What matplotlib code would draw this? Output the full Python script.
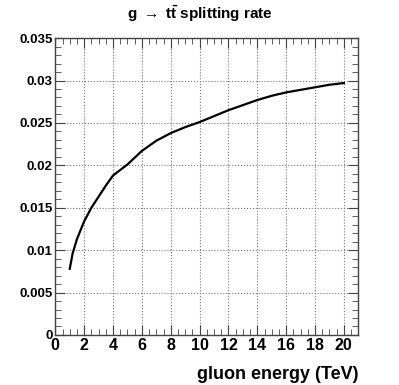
import numpy as np
import matplotlib.pyplot as plt
from matplotlib.ticker import MultipleLocator

# gluon energy (TeV) and g -> t tbar splitting rate
energy = [1.0, 1.2, 1.5, 2, 2.5, 3, 3.5, 4, 5, 6, 7, 8, 9, 10,
          11, 12, 13, 14, 15, 16, 17, 18, 19, 20]
rate = [0.0078, 0.0096, 0.0113, 0.0134, 0.0150, 0.0163, 0.0176, 0.0188,
        0.0201, 0.0217, 0.0229, 0.0238, 0.0245, 0.0251, 0.0258, 0.0265,
        0.0271, 0.0277, 0.0282, 0.0286, 0.0289, 0.0292, 0.0295, 0.0297]

plt.rcParams['font.family'] = ['Liberation Sans', 'DejaVu Sans']
plt.rcParams['font.weight'] = 'bold'
plt.rcParams['mathtext.fontset'] = 'custom'
plt.rcParams['mathtext.rm'] = 'Liberation Sans:bold'
plt.rcParams['mathtext.it'] = 'Liberation Sans:bold'
plt.rcParams['mathtext.bf'] = 'Liberation Sans:bold'

fig = plt.figure(figsize=(3.99, 3.85), dpi=100)
ax = fig.add_axes([0.1386, 0.130, 0.7594, 0.771])

ax.plot(energy, rate, color='black', lw=1.6)

ax.set_xlim(0, 21)
ax.set_ylim(0, 0.035)
ax.xaxis.set_major_locator(MultipleLocator(2))
ax.xaxis.set_minor_locator(MultipleLocator(0.5))
ax.yaxis.set_major_locator(MultipleLocator(0.005))
ax.yaxis.set_minor_locator(MultipleLocator(0.001))
ax.yaxis.set_major_formatter(plt.FuncFormatter(lambda v, p: ('%g' % round(v, 4))))
ax.tick_params(which='both', direction='in', top=True, right=True,
               color='#444444')
ax.tick_params(which='major', length=7)
ax.tick_params(which='minor', length=4)
ax.tick_params(axis='x', labelsize=11.5, pad=2)
ax.tick_params(axis='y', labelsize=9.5, pad=2)
ax.grid(True, which='major', linestyle=':', color='#777777', lw=0.8)
for s in ax.spines.values():
    s.set_color('#444444')
    s.set_linewidth(1.0)

fig.text(0.5, 0.964, r"g $\rightarrow$ t$\mathrm{\bar{t}}$ splitting rate",
         ha='center', va='center', fontsize=11, fontweight='bold')
fig.text(0.898, 0.026, "gluon energy (TeV)", ha='right', va='center',
         fontsize=13, fontweight='bold')

fig.savefig('out.png', dpi=100)
